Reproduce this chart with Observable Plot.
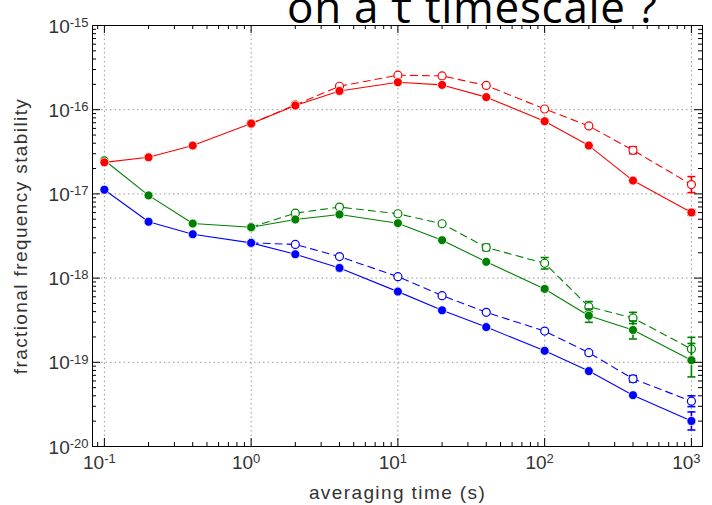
<!DOCTYPE html>
<html><head><meta charset="utf-8">
<script src="https://cdn.jsdelivr.net/npm/d3@7"></script>
<script src="https://cdn.jsdelivr.net/npm/@observablehq/plot@0.6"></script>
<style>
body{margin:0;background:#fff;}
#wrap{position:relative;width:712px;height:505px;overflow:hidden;}
#title{position:absolute;left:287px;top:-16px;font-family:"Open Sans";font-size:44px;line-height:44px;letter-spacing:0.7px;white-space:nowrap;color:#000;z-index:2;}
</style></head><body>
<div id="wrap"><div id="title">on a τ timescale ?</div><div id="chart"></div></div>
<script>
const tau = [0.1, 0.2, 0.4, 1, 2, 4, 10, 20, 40, 100, 200, 400, 1000];
const tauOpen = [1, 2, 4, 10, 20, 40, 100, 200, 400, 1000];

const redFilled = [2.37e-17, 2.72e-17, 3.75e-17, 6.85e-17, 1.12e-16, 1.67e-16, 2.12e-16, 1.97e-16, 1.41e-16, 7.30e-17, 3.75e-17, 1.44e-17, 6.02e-18];
const redOpen = [6.85e-17, 1.14e-16, 1.90e-16, 2.57e-16, 2.52e-16, 1.94e-16, 1.02e-16, 6.41e-17, 3.30e-17, 1.29e-17];
const greenFilled = [2.51e-17, 9.60e-18, 4.45e-18, 4.02e-18, 4.97e-18, 5.70e-18, 4.49e-18, 2.82e-18, 1.56e-18, 7.44e-19, 3.58e-19, 2.42e-19, 1.06e-19];
const greenOpen = [4.02e-18, 5.91e-18, 6.97e-18, 5.81e-18, 4.42e-18, 2.31e-18, 1.50e-18, 4.58e-19, 3.36e-19, 1.44e-19];
const blueFilled = [1.12e-17, 4.67e-18, 3.32e-18, 2.62e-18, 1.92e-18, 1.32e-18, 6.91e-19, 4.14e-19, 2.62e-19, 1.37e-19, 7.86e-20, 4.07e-20, 2.01e-20];
const blueOpen = [2.62e-18, 2.51e-18, 1.80e-18, 1.04e-18, 6.19e-19, 3.92e-19, 2.35e-19, 1.30e-19, 6.37e-20, 3.45e-20];

// multiplicative error-bar factors (1 = no visible bar)
const redFilledErr = [1,1,1,1,1,1,1,1,1,1,1,1,1.08];
const redOpenErr = [1,1,1,1,1,1,1,1.04,1.10,1.245];
const greenFilledErr = [1,1,1,1,1,1,1,1,1,1.05,1.2,1.28,1.58];
const greenOpenErr = [1,1,1,1,1,1.09,1.17,1.15,1.166,1.375];
const blueFilledErr = [1,1,1,1,1,1,1,1,1,1,1,1.05,1.28];
const blueOpenErr = [1,1,1,1,1,1,1,1.05,1.09,1.16];

const xMajor = [0.1, 1, 10, 100, 1000];
const yMajor = [1e-20, 1e-19, 1e-18, 1e-17, 1e-16, 1e-15];
const xLabel = "averaging time (s)";
const yLabel = "fractional frequency stability";

const RED = "#ff0000", GREEN = "#008000", BLUE = "#0000ff";
const series = [
  {x: tauOpen, y: redOpen, e: redOpenErr, c: RED, open: true},
  {x: tauOpen, y: greenOpen, e: greenOpenErr, c: GREEN, open: true},
  {x: tauOpen, y: blueOpen, e: blueOpenErr, c: BLUE, open: true},
  {x: tau, y: blueFilled, e: blueFilledErr, c: BLUE, open: false},
  {x: tau, y: greenFilled, e: greenFilledErr, c: GREEN, open: false},
  {x: tau, y: redFilled, e: redFilledErr, c: RED, open: false}
];

const xMinor = [], yMinor = [];
for (let k = -2; k <= 3; k++) for (let m = 2; m <= 9; m++) { const v = m * Math.pow(10, k); if (v > 0.083 && v < 1190) xMinor.push(v); }
for (let k = -20; k <= -16; k++) for (let m = 2; m <= 9; m++) yMinor.push(m * Math.pow(10, k));

const W = 712, H = 505, mL = 92, mR = 10, mT = 25, mB = 59;
const fw = W - mL - mR, fh = H - mT - mB;
const capF = Math.pow(10, 4 / (fw / Math.log10(1190 / 0.083)));
const TXT = "#333";

const marks = [
  Plot.ruleX(xMajor, {x: d => d, stroke: "#999", strokeDasharray: "1.5,3"}),
  Plot.ruleY(yMajor, {y: d => d, stroke: "#999", strokeDasharray: "1.5,3"})
];
for (const s of series) {
  const rows = s.x.map((t, i) => ({t, v: s.y[i], lo: s.y[i] / s.e[i], hi: s.y[i] * s.e[i], e: s.e[i]}));
  const eb = rows.filter(r => r.e > 1);
  marks.push(Plot.line(rows, {x: "t", y: "v", stroke: s.c, strokeWidth: 1.1, strokeDasharray: s.open ? "7,5" : null}));
  marks.push(Plot.ruleX(eb, {x: "t", y1: "lo", y2: "hi", stroke: s.c, strokeWidth: 1.6}));
  marks.push(Plot.link(eb, {x1: r => r.t / capF, x2: r => r.t * capF, y1: "lo", y2: "lo", stroke: s.c, strokeWidth: 1.6}));
  marks.push(Plot.link(eb, {x1: r => r.t / capF, x2: r => r.t * capF, y1: "hi", y2: "hi", stroke: s.c, strokeWidth: 1.6}));
  if (s.open) marks.push(Plot.dot(rows, {x: "t", y: "v", r: 4, fill: "white", stroke: s.c, strokeWidth: 1.2}));
  else marks.push(Plot.dot(rows, {x: "t", y: "v", r: 4.5, fill: s.c, stroke: "white", strokeWidth: 0.8}));
}
// inward ticks on all four sides
marks.push(
  Plot.tickX(xMajor, {x: d => d, insetTop: fh - 8, stroke: "black"}),
  Plot.tickX(xMajor, {x: d => d, insetBottom: fh - 8, stroke: "black"}),
  Plot.tickX(xMinor, {x: d => d, insetTop: fh - 4, stroke: "black"}),
  Plot.tickX(xMinor, {x: d => d, insetBottom: fh - 4, stroke: "black"}),
  Plot.tickY(yMajor, {y: d => d, insetRight: fw - 8, stroke: "black"}),
  Plot.tickY(yMajor, {y: d => d, insetLeft: fw - 8, stroke: "black"}),
  Plot.tickY(yMinor, {y: d => d, insetRight: fw - 4, stroke: "black"}),
  Plot.tickY(yMinor, {y: d => d, insetLeft: fw - 4, stroke: "black"}),
  Plot.frame({stroke: "black", strokeWidth: 1}),
  Plot.text(xMajor, {x: d => d, frameAnchor: "bottom", dy: 16, dx: -5, lineAnchor: "middle", textAnchor: "middle",
    text: d => "10^" + Math.round(Math.log10(d)), fontSize: 19, fill: TXT}),
  Plot.text(yMajor, {y: d => d, frameAnchor: "left", dx: -4, dy: 1, lineAnchor: "middle", textAnchor: "end",
    text: d => "10^" + Math.round(Math.log10(d)), fontSize: 19, fill: TXT}),
  Plot.text([xLabel], {frameAnchor: "bottom", dy: 46, lineAnchor: "middle", textAnchor: "middle", fontSize: 19, fill: TXT}),
  Plot.text([yLabel], {frameAnchor: "left", dx: -72, rotate: -90, lineAnchor: "middle", textAnchor: "middle", fontSize: 19, fill: TXT})
);

const chart = Plot.plot({
  width: W, height: H, marginLeft: mL, marginRight: mR, marginTop: mT, marginBottom: mB,
  x: {type: "log", domain: [0.083, 1190], axis: null},
  y: {type: "log", domain: [1e-20, 1e-15], axis: null},
  style: {fontFamily: "'Liberation Sans', Arial, sans-serif", background: "white"},
  marks
});
d3.select(chart).selectAll("text").each(function() {
  const m = /^10\^(-?\d+)$/.exec(this.textContent);
  if (!m) return;
  const el = d3.select(this);
  el.text("10");
  el.append("tspan").attr("dy", "-0.45em").attr("font-size", 13).text(m[1]);
});
d3.select(chart).selectAll("text").filter(function() { return this.textContent === xLabel || this.textContent === yLabel; })
  .attr("letter-spacing", "1.4px");
document.getElementById("chart").appendChild(chart);
</script>
</body></html>
